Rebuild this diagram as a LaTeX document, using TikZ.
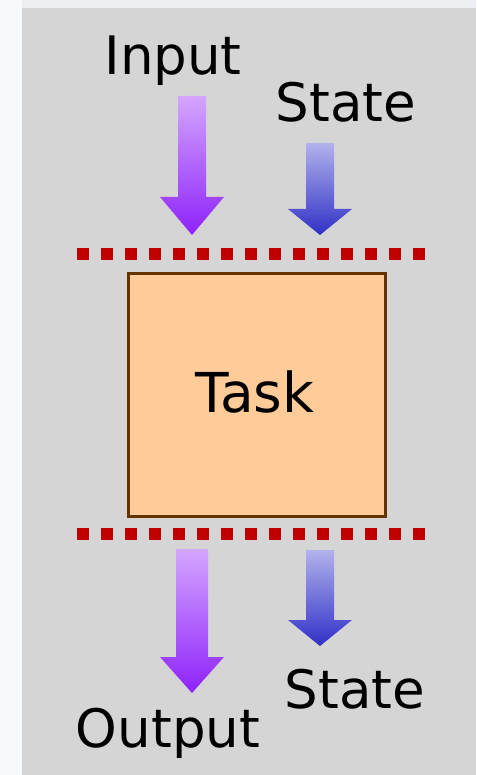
\documentclass[tikz,border=0pt]{standalone}
\usepackage{fontspec}
\setmainfont{DejaVu Sans}
\begin{document}
\begin{tikzpicture}[x=1pt,y=-1pt]
  \definecolor{pagebg}{HTML}{EDEFF3}
  \definecolor{panel}{HTML}{D5D5D5}
  \definecolor{taskfill}{HTML}{FFCC99}
  \definecolor{taskedge}{HTML}{663300}
  \definecolor{barred}{HTML}{C00000}
  \definecolor{violetA}{HTML}{D4A6FF}
  \definecolor{violetB}{HTML}{8E22FA}
  \definecolor{blueA}{HTML}{B2B2EC}
  \definecolor{blueB}{HTML}{3030C8}
  \tikzset{
    label/.style={font=\fontsize{53}{62}\selectfont, inner sep=0pt, anchor=base},
    taskbox/.style={draw=taskedge, line width=3pt, fill=taskfill, minimum width=257pt, minimum height=243pt, inner sep=0pt},
    barrier/.style={barred, line width=12pt, dash pattern=on 12pt off 12pt},
    violetflow/.style={top color=violetA, bottom color=violetB},
    blueflow/.style={top color=blueA, bottom color=blueB}
  }
  % block arrow: #1 centre x, #2 top, #3 head start, #4 tip, #5 half shaft width
  \newcommand\blockarrow[6]{%
    \shade[#6] (#1-#5,#2) -- (#1+#5,#2) -- (#1+#5,#3) -- (#1+32,#3) -- (#1,#4)
      -- (#1-32,#3) -- (#1-#5,#3) -- cycle;}

  % page and panel
  \fill[pagebg] (0,0) rectangle (476,775);
  \fill[white!60!pagebg] (0,0) rectangle (22,775);
  \fill[panel] (22,8) rectangle (476,775);

  % labels
  \node[label] (input) at (173,75) {Input};
  \node[label] (statein) at (346,122) {State};
  \node[label] (output) at (168,747) {Output};
  \node[label] (stateout) at (355,708) {State};

  % flows into the task
  \blockarrow{192}{96}{197}{235}{14}{violetflow}
  \blockarrow{320}{143}{209}{235}{14}{blueflow}

  % boundaries
  \coordinate (topL) at (77,254);
  \coordinate (topR) at (426,254);
  \coordinate (botL) at (77,534);
  \coordinate (botR) at (426,534);
  \draw[barrier] (topL) -- (topR);
  \draw[barrier] (botL) -- (botR);

  % the task
  \node[taskbox] (task) at (256.5,394.5) {};
  \node[label, font=\fontsize{55}{64}\selectfont, anchor=center] (tasktext) at (255,392) {Task};

  % flows out of the task
  \blockarrow{192}{549}{657}{693}{16}{violetflow}
  \blockarrow{320}{550}{620}{646}{14}{blueflow}
\end{tikzpicture}
\end{document}
